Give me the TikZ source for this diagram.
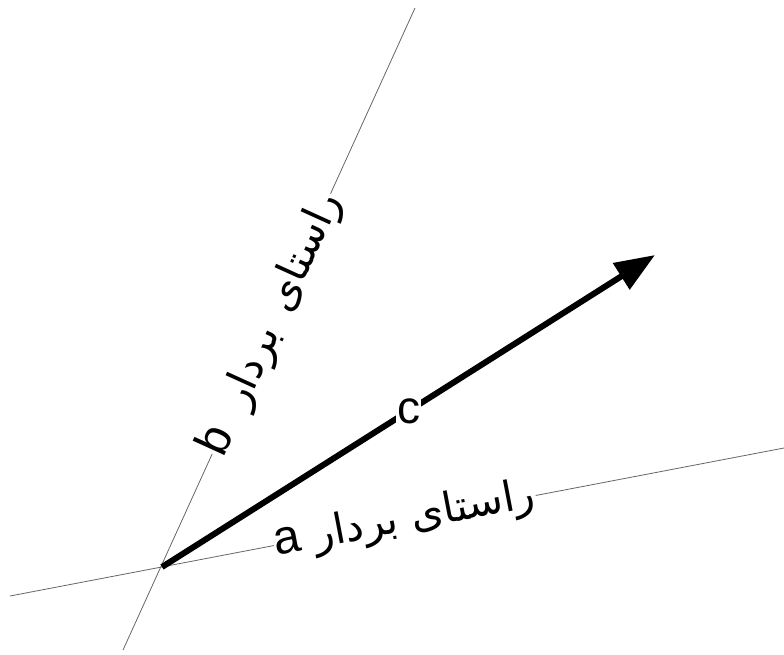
\documentclass[tikz,border=0pt]{standalone}
\usepackage{fontspec}
\setmainfont{Liberation Sans}
\newfontfamily\farsifont[Script=Arabic]{DejaVu Sans}
\TeXXeTstate=1
\usetikzlibrary{arrows.meta}

\newcommand{\latinletter}[1]{{\rmfamily\fontsize{48}{50}\selectfont #1}}

\begin{document}
\begin{tikzpicture}[x=1pt,y=-1pt,
    axisline/.style={gray!80!black, line width=0.8pt},
    vecline/.style={line width=6pt, -{Triangle[length=40pt,width=30pt]}},
    dirlabel/.style={sloped, fill=white, text=black, inner sep=1pt, font=\fontsize{42}{46}\selectfont},
    veclabel/.style={fill=white, inner sep=1pt, font=\fontsize{46}{50}\selectfont}]
  \useasboundingbox (0,0) rectangle (784,654);
  % directions of a and b
  \coordinate (O) at (162,567);
  \coordinate (a1) at (10,596);
  \coordinate (a2) at (784,448);
  \coordinate (b1) at (123,650);
  \coordinate (b2) at (415,8);
  \coordinate (tip) at (655,255);
  \draw[axisline] (a1) -- node[dirlabel, pos=0.51] (la) {\farsifont\beginR راستای بردار \latinletter{a}\endR} (a2);
  \draw[axisline] (b1) -- node[dirlabel, pos=0.508] (lb) {\farsifont\beginR راستای\hspace{0.5em}بردار\hspace{0.6em}\latinletter{b}\endR} (b2);
  % the vector c
  \draw[vecline] (O) -- node[veclabel] (lc) {c} (tip);
\end{tikzpicture}
\end{document}
